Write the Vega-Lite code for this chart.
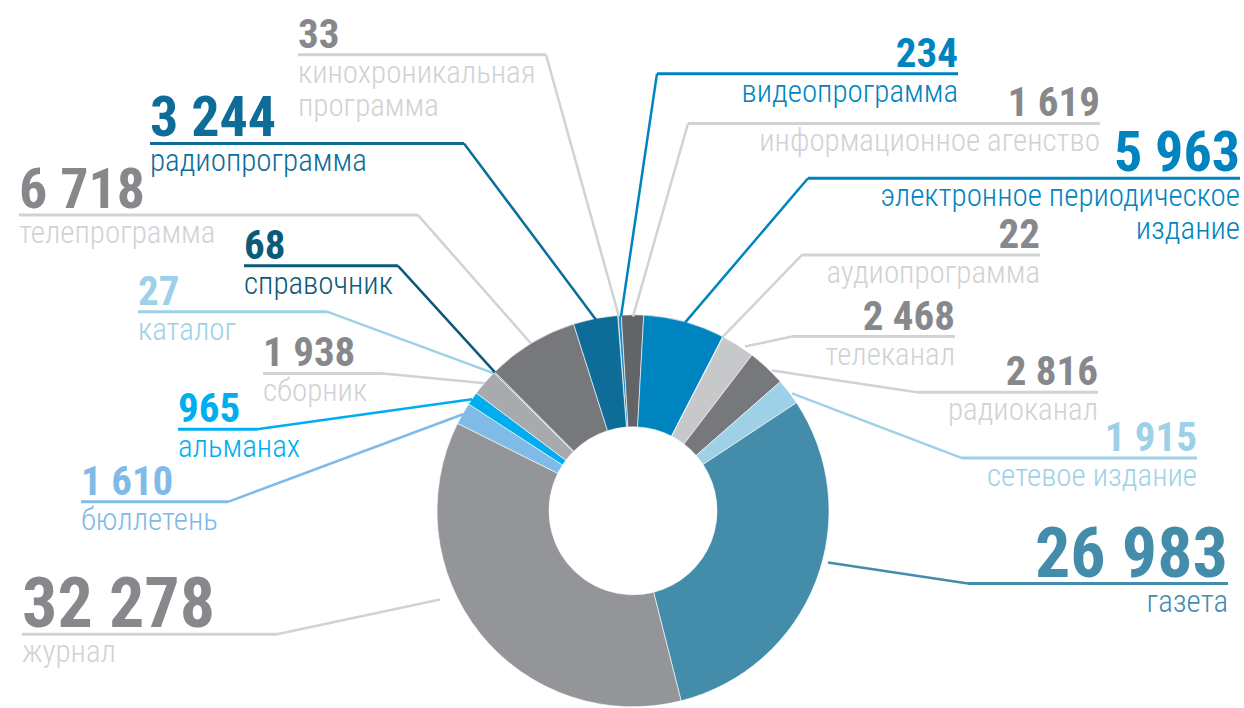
{
  "$schema": "https://vega.github.io/schema/vega-lite/v6.json",
  "width": 1244,
  "height": 708,
  "padding": 0,
  "autosize": {"type": "fit", "contains": "padding"},
  "background": "white",
  "config": {
    "view": {"stroke": null},
    "locale": {"number": {"decimal": ",", "thousands": " ", "grouping": [3], "currency": ["", ""]}}
  },
  "datasets": {
    "publications": [
      {"name": "кинохроникальная\nпрограмма", "value": 33},
      {"name": "видеопрограмма", "value": 234},
      {"name": "информационное агенство", "value": 1619},
      {"name": "электронное периодическое\nиздание", "value": 5963},
      {"name": "аудиопрограмма", "value": 22},
      {"name": "телеканал", "value": 2468},
      {"name": "радиоканал", "value": 2816},
      {"name": "сетевое издание", "value": 1915},
      {"name": "газета", "value": 26983},
      {"name": "журнал", "value": 32278},
      {"name": "бюллетень", "value": 1610},
      {"name": "альманах", "value": 965},
      {"name": "сборник", "value": 1938},
      {"name": "каталог", "value": 27},
      {"name": "справочник", "value": 68},
      {"name": "телепрограмма", "value": 6718},
      {"name": "радиопрограмма", "value": 3244}
    ],
    "callouts": [
      {"name": "кинохроникальная\nпрограмма", "side": "left", "labelX": 298, "kneeX": 546, "lineY": 55, "tipX": 619, "tipY": 318},
      {"name": "видеопрограмма", "side": "right", "labelX": 958, "kneeX": 657, "lineY": 74, "tipX": 621, "tipY": 318},
      {"name": "информационное агенство", "side": "right", "labelX": 1100, "kneeX": 688, "lineY": 124, "tipX": 633, "tipY": 318},
      {"name": "электронное периодическое\nиздание", "side": "right", "labelX": 1240, "kneeX": 808, "lineY": 179, "tipX": 685, "tipY": 324},
      {"name": "аудиопрограмма", "side": "right", "labelX": 1040, "kneeX": 802, "lineY": 256, "tipX": 722, "tipY": 339},
      {"name": "телеканал", "side": "right", "labelX": 955, "kneeX": 792, "lineY": 338, "tipX": 745, "tipY": 348},
      {"name": "радиоканал", "side": "right", "labelX": 1098, "kneeX": 917, "lineY": 394, "tipX": 772, "tipY": 372},
      {"name": "сетевое издание", "side": "right", "labelX": 1197, "kneeX": 962, "lineY": 460, "tipX": 792, "tipY": 395},
      {"name": "газета", "side": "right", "labelX": 1228, "kneeX": 968, "lineY": 586, "tipX": 828, "tipY": 565},
      {"name": "журнал", "side": "left", "labelX": 22, "kneeX": 277, "lineY": 637, "tipX": 440, "tipY": 602},
      {"name": "бюллетень", "side": "left", "labelX": 81, "kneeX": 228, "lineY": 504, "tipX": 463, "tipY": 416},
      {"name": "альманах", "side": "left", "labelX": 178, "kneeX": 257, "lineY": 431, "tipX": 472, "tipY": 401},
      {"name": "сборник", "side": "left", "labelX": 263, "kneeX": 383, "lineY": 375, "tipX": 485, "tipY": 385},
      {"name": "каталог", "side": "left", "labelX": 138, "kneeX": 327, "lineY": 313, "tipX": 494, "tipY": 375},
      {"name": "справочник", "side": "left", "labelX": 244, "kneeX": 398, "lineY": 267, "tipX": 495, "tipY": 374},
      {"name": "телепрограмма", "side": "left", "labelX": 19, "kneeX": 418, "lineY": 216, "tipX": 531, "tipY": 345},
      {"name": "радиопрограмма", "side": "left", "labelX": 150, "kneeX": 464, "lineY": 144, "tipX": 596, "tipY": 321}
    ]
  },
  "resolve": {"scale": {"color": "independent"}},
  "layer": [
    {
      "data": {"name": "publications"},
      "transform": [{"window": [{"op": "row_number", "as": "idx"}]}],
      "mark": {"type": "arc", "outerRadius": 196, "innerRadius": 84, "stroke": "white", "strokeWidth": 0.6},
      "encoding": {
        "x": {"datum": 633, "type": "quantitative", "scale": {"domain": [0, 1244], "nice": false, "zero": false}, "axis": null},
        "y": {"datum": 513, "type": "quantitative", "scale": {"domain": [0, 708], "reverse": true, "nice": false, "zero": false}, "axis": null},
        "theta": {"field": "value", "type": "quantitative", "stack": true, "scale": {"range": [-0.0785, 6.2047]}},
        "order": {"field": "idx", "type": "quantitative"},
        "color": {
          "field": "name", "type": "nominal", "legend": null,
          "scale": {
            "domain": ["кинохроникальная\nпрограмма", "видеопрограмма", "информационное агенство", "электронное периодическое\nиздание", "аудиопрограмма", "телеканал", "радиоканал", "сетевое издание", "газета", "журнал", "бюллетень", "альманах", "сборник", "каталог", "справочник", "телепрограмма", "радиопрограмма"],
            "range": ["#d5d6d8", "#1a8cc4", "#636467", "#0084bf", "#e6e7e8", "#c7c8ca", "#77787b", "#9ed1e8", "#438caa", "#939598", "#7fbbe6", "#00aeef", "#a8aaad", "#9ed1e8", "#0b5a78", "#77787b", "#0d6c98"]
          }
        }
      }
    },
    {
      "data": {"name": "callouts"},
      "mark": {"type": "rule", "strokeWidth": 3},
      "encoding": {
        "x": {"field": "labelX", "type": "quantitative", "scale": {"domain": [0, 1244], "nice": false, "zero": false}, "axis": null},
        "x2": {"field": "kneeX"},
        "y": {"field": "lineY", "type": "quantitative", "scale": {"domain": [0, 708], "reverse": true, "nice": false, "zero": false}, "axis": null},
        "color": {
          "field": "name", "type": "nominal", "legend": null,
          "scale": {
            "domain": ["кинохроникальная\nпрограмма", "видеопрограмма", "информационное агенство", "электронное периодическое\nиздание", "аудиопрограмма", "телеканал", "радиоканал", "сетевое издание", "газета", "журнал", "бюллетень", "альманах", "сборник", "каталог", "справочник", "телепрограмма", "радиопрограмма"],
            "range": ["#d1d2d4", "#0084bf", "#d1d2d4", "#0084bf", "#d1d2d4", "#d1d2d4", "#d1d2d4", "#9ed1e8", "#438caa", "#d1d2d4", "#7fbbe6", "#00aeef", "#d1d2d4", "#9ed1e8", "#0b5a78", "#d1d2d4", "#0d6c98"]
          }
        }
      }
    },
    {
      "data": {"name": "callouts"},
      "mark": {"type": "rule", "strokeWidth": 2.5},
      "encoding": {
        "x": {"field": "kneeX", "type": "quantitative", "scale": {"domain": [0, 1244], "nice": false, "zero": false}, "axis": null},
        "x2": {"field": "tipX"},
        "y": {"field": "lineY", "type": "quantitative", "scale": {"domain": [0, 708], "reverse": true, "nice": false, "zero": false}, "axis": null},
        "y2": {"field": "tipY"},
        "color": {
          "field": "name", "type": "nominal", "legend": null,
          "scale": {
            "domain": ["кинохроникальная\nпрограмма", "видеопрограмма", "информационное агенство", "электронное периодическое\nиздание", "аудиопрограмма", "телеканал", "радиоканал", "сетевое издание", "газета", "журнал", "бюллетень", "альманах", "сборник", "каталог", "справочник", "телепрограмма", "радиопрограмма"],
            "range": ["#d1d2d4", "#0084bf", "#d1d2d4", "#0084bf", "#d1d2d4", "#d1d2d4", "#d1d2d4", "#9ed1e8", "#438caa", "#d1d2d4", "#7fbbe6", "#00aeef", "#d1d2d4", "#9ed1e8", "#0b5a78", "#d1d2d4", "#0d6c98"]
          }
        }
      }
    },
    {
      "data": {"name": "callouts"},
      "transform": [
        {"filter": "datum.side === 'left'"},
        {"lookup": "name", "from": {"data": {"name": "publications"}, "key": "name", "fields": ["value"]}}
      ],
      "mark": {"type": "text", "align": "left", "baseline": "alphabetic", "dy": -7, "font": "Noto Sans ExtraCondensed, Roboto Condensed, DejaVu Sans Condensed", "fontWeight": "bold"},
      "encoding": {
        "x": {"field": "labelX", "type": "quantitative", "scale": {"domain": [0, 1244], "nice": false, "zero": false}, "axis": null},
        "y": {"field": "lineY", "type": "quantitative", "scale": {"domain": [0, 708], "reverse": true, "nice": false, "zero": false}, "axis": null},
        "text": {"field": "value", "type": "quantitative", "format": ",d"},
        "size": {"field": "value", "type": "quantitative", "legend": null, "scale": {"type": "threshold", "domain": [3000, 20000], "range": [41, 56, 70]}},
        "color": {
          "field": "name", "type": "nominal", "legend": null,
          "scale": {
            "domain": ["кинохроникальная\nпрограмма", "видеопрограмма", "информационное агенство", "электронное периодическое\nиздание", "аудиопрограмма", "телеканал", "радиоканал", "сетевое издание", "газета", "журнал", "бюллетень", "альманах", "сборник", "каталог", "справочник", "телепрограмма", "радиопрограмма"],
            "range": ["#87888c", "#0084bf", "#87888c", "#0084bf", "#87888c", "#87888c", "#87888c", "#9ed1e8", "#438caa", "#87888c", "#7fbbe6", "#00aeef", "#87888c", "#9ed1e8", "#0b5a78", "#87888c", "#0d6c98"]
          }
        }
      }
    },
    {
      "data": {"name": "callouts"},
      "transform": [
        {"filter": "datum.side === 'right'"},
        {"lookup": "name", "from": {"data": {"name": "publications"}, "key": "name", "fields": ["value"]}}
      ],
      "mark": {"type": "text", "align": "right", "baseline": "alphabetic", "dy": -7, "font": "Noto Sans ExtraCondensed, Roboto Condensed, DejaVu Sans Condensed", "fontWeight": "bold"},
      "encoding": {
        "x": {"field": "labelX", "type": "quantitative", "scale": {"domain": [0, 1244], "nice": false, "zero": false}, "axis": null},
        "y": {"field": "lineY", "type": "quantitative", "scale": {"domain": [0, 708], "reverse": true, "nice": false, "zero": false}, "axis": null},
        "text": {"field": "value", "type": "quantitative", "format": ",d"},
        "size": {"field": "value", "type": "quantitative", "legend": null, "scale": {"type": "threshold", "domain": [3000, 20000], "range": [41, 56, 70]}},
        "color": {
          "field": "name", "type": "nominal", "legend": null,
          "scale": {
            "domain": ["кинохроникальная\nпрограмма", "видеопрограмма", "информационное агенство", "электронное периодическое\nиздание", "аудиопрограмма", "телеканал", "радиоканал", "сетевое издание", "газета", "журнал", "бюллетень", "альманах", "сборник", "каталог", "справочник", "телепрограмма", "радиопрограмма"],
            "range": ["#87888c", "#0084bf", "#87888c", "#0084bf", "#87888c", "#87888c", "#87888c", "#9ed1e8", "#438caa", "#87888c", "#7fbbe6", "#00aeef", "#87888c", "#9ed1e8", "#0b5a78", "#87888c", "#0d6c98"]
          }
        }
      }
    },
    {
      "data": {"name": "callouts"},
      "transform": [{"filter": "datum.side === 'left'"}],
      "mark": {"type": "text", "align": "left", "baseline": "alphabetic", "dy": 28, "font": "Noto Sans Condensed, Roboto Condensed, DejaVu Sans Condensed", "fontSize": 31, "fontWeight": 300, "lineBreak": "\n", "lineHeight": 33},
      "encoding": {
        "x": {"field": "labelX", "type": "quantitative", "scale": {"domain": [0, 1244], "nice": false, "zero": false}, "axis": null},
        "y": {"field": "lineY", "type": "quantitative", "scale": {"domain": [0, 708], "reverse": true, "nice": false, "zero": false}, "axis": null},
        "text": {"field": "name", "type": "nominal"},
        "color": {
          "field": "name", "type": "nominal", "legend": null,
          "scale": {
            "domain": ["кинохроникальная\nпрограмма", "видеопрограмма", "информационное агенство", "электронное периодическое\nиздание", "аудиопрограмма", "телеканал", "радиоканал", "сетевое издание", "газета", "журнал", "бюллетень", "альманах", "сборник", "каталог", "справочник", "телепрограмма", "радиопрограмма"],
            "range": ["#d1d2d4", "#0084bf", "#d1d2d4", "#0084bf", "#d1d2d4", "#d1d2d4", "#d1d2d4", "#9ed1e8", "#438caa", "#d1d2d4", "#7fbbe6", "#00aeef", "#d1d2d4", "#9ed1e8", "#0b5a78", "#d1d2d4", "#0d6c98"]
          }
        }
      }
    },
    {
      "data": {"name": "callouts"},
      "transform": [{"filter": "datum.side === 'right'"}],
      "mark": {"type": "text", "align": "right", "baseline": "alphabetic", "dy": 28, "font": "Noto Sans Condensed, Roboto Condensed, DejaVu Sans Condensed", "fontSize": 31, "fontWeight": 300, "lineBreak": "\n", "lineHeight": 33},
      "encoding": {
        "x": {"field": "labelX", "type": "quantitative", "scale": {"domain": [0, 1244], "nice": false, "zero": false}, "axis": null},
        "y": {"field": "lineY", "type": "quantitative", "scale": {"domain": [0, 708], "reverse": true, "nice": false, "zero": false}, "axis": null},
        "text": {"field": "name", "type": "nominal"},
        "color": {
          "field": "name", "type": "nominal", "legend": null,
          "scale": {
            "domain": ["кинохроникальная\nпрограмма", "видеопрограмма", "информационное агенство", "электронное периодическое\nиздание", "аудиопрограмма", "телеканал", "радиоканал", "сетевое издание", "газета", "журнал", "бюллетень", "альманах", "сборник", "каталог", "справочник", "телепрограмма", "радиопрограмма"],
            "range": ["#d1d2d4", "#0084bf", "#d1d2d4", "#0084bf", "#d1d2d4", "#d1d2d4", "#d1d2d4", "#9ed1e8", "#438caa", "#d1d2d4", "#7fbbe6", "#00aeef", "#d1d2d4", "#9ed1e8", "#0b5a78", "#d1d2d4", "#0d6c98"]
          }
        }
      }
    }
  ]
}
